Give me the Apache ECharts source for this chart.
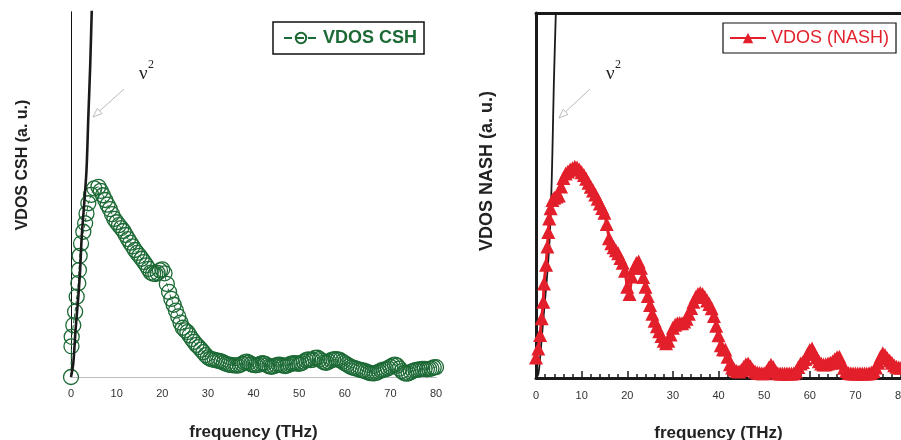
<!DOCTYPE html>
<html>
<head>
<meta charset="utf-8">
<script src="https://cdn.jsdelivr.net/npm/echarts@6/dist/echarts.min.js"></script>
<style>html,body{margin:0;padding:0;background:#fff}#c{width:901px;height:440px}</style>
</head>
<body>
<div id="c"></div>
<script>
// ---------- data ----------
const xTicks = [0, 10, 20, 30, 40, 50, 60, 70, 80];

// VDOS CSH (left panel)
const cshFreq = [0,0.1,0.15,0.5,0.9,1.25,1.6,1.75,1.9,2.2,2.7,3.1,3.4,3.8,4.4,5.1,6.0,
 6.5,7,7.5,8,8.5,9,9.5,10,10.5,11,11.5,12,12.5,13,13.5,14,14.5,15,15.5,16,16.5,17,17.5,18,18.5,19,19.5,20,
 20.5,21,21.5,22,22.5,23,23.5,24,24.5,25,25.5,26,26.5,27,27.5,28,28.5,29,29.5,30,
 30.5,31,31.5,32,32.5,33,33.5,34,34.5,35,35.5,36,36.5,37,37.5,38,38.5,39,39.5,40,
 40.5,41,41.5,42,42.5,43,43.5,44,44.5,45,45.5,46,46.5,47,47.5,48,48.5,49,49.5,50,
 50.5,51,51.5,52,52.5,53,53.5,54,54.5,55,55.5,56,56.5,57,57.5,58,58.5,59,59.5,60,
 60.5,61,61.5,62,62.5,63,63.5,64,64.5,65,65.5,66,66.5,67,67.5,68,68.5,69,69.5,70,
 70.5,71,71.5,72,72.5,73,73.5,74,74.5,75,75.5,76,76.5,77,77.5,78,78.5,79,79.5,80];
const cshVdos = [0,8.4,11,14.2,17.9,22,25.7,29.3,33.2,36.6,39.8,42.1,44.8,47.6,49.9,51.7,52.1,
 51.0,49.8,48.5,47.2,46.0,44.6,43.3,42.4,41.6,40.8,40.0,38.9,37.8,36.8,35.8,34.8,34.0,33.2,32.4,31.5,30.6,29.6,28.6,28.3,28.2,28.5,29.2,29.5,
 28.4,25.5,23.3,21.4,19.8,18.2,16.6,14.9,13.5,12.8,12.3,11.4,10.4,9.6,8.8,8.2,7.5,6.8,6.0,5.4,
 5.0,4.8,4.7,4.5,4.4,4.2,3.9,3.6,3.4,3.3,3.2,3.2,3.1,3.3,3.6,4.0,4.2,3.9,3.5,3.3,
 3.2,3.3,3.6,3.8,3.6,3.2,2.9,2.8,3.0,3.2,3.4,3.3,3.1,3.0,3.2,3.5,3.7,3.8,3.7,3.6,
 3.8,4.2,4.6,4.8,4.6,4.7,5.2,5.3,4.9,4.4,4.0,3.9,4.2,4.6,4.8,4.9,4.8,4.6,4.2,3.8,
 3.4,3.0,2.7,2.5,2.3,2.1,1.9,1.8,1.6,1.3,1.1,1.0,1.0,1.2,1.5,1.8,2.0,2.1,2.4,2.8,
 3.2,3.4,3.1,2.3,1.6,1.1,0.9,1.0,1.4,1.7,1.9,2.0,2.1,2.2,2.2,2.1,2.2,2.3,2.6,2.7];

// VDOS NASH (right panel)
const nashFreq = [0,0.5,0.9,1.25,1.6,1.75,2.2,2.5,2.7,2.9,3.2,3.6,4.0,
 4.5,5,5.5,6,6.5,7,7.5,8,8.5,9,9.5,10,10.5,11,11.5,12,12.5,13,13.5,14,14.5,15,15.5,16,16.5,17,17.5,18,18.5,19,19.5,20,
 20.5,21,21.5,22,22.5,23,23.5,24,24.5,25,25.5,26,26.5,27,27.5,28,28.5,29,29.5,30,
 30.5,31,31.5,32,32.5,33,33.5,34,34.5,35,35.5,36,36.5,37,37.5,38,38.5,39,39.5,40,
 40.5,41,41.5,42,42.5,43,43.5,44,44.5,45,45.5,46,46.5,47,47.5,48,48.5,49,49.5,50,
 50.5,51,51.5,52,52.5,53,53.5,54,54.5,55,55.5,56,56.5,57,57.5,58,58.5,59,59.5,60,
 60.5,61,61.5,62,62.5,63,63.5,64,64.5,65,65.5,66,66.5,67,67.5,68,68.5,69,69.5,70,
 70.5,71,71.5,72,72.5,73,73.5,74,74.5,75,75.5,76,76.5,77,77.5,78,78.5,79,79.5,80];
const nashVdos = [5.6,8.1,11.8,16.4,20.9,25.9,31,36,40,43.7,46.5,48.8,49.4,
 49.7,50.0,52.5,54.8,56.0,56.6,57.1,57.5,57.9,57.7,57.1,56.4,55.6,54.6,53.5,52.4,51.4,50.3,49.1,47.8,46.6,45.3,42.2,38.3,36.9,35.8,35.0,34.2,32.9,31.6,29.4,25.0,
 23.0,27.8,30.2,31.5,31.9,30.2,27.7,25.0,22.5,20.0,17.6,15.7,14.2,12.8,11.5,10.2,9.5,10.2,11.9,13.8,
 14.6,15.0,15.1,15.0,15.5,16.2,17.6,19.2,20.9,22.2,23.0,23.3,23.0,22.2,21.2,20.3,19.1,17.0,14.3,11.7,
 9.0,7.9,7.8,5.8,3.8,2.9,2.3,1.9,1.8,2.2,3.0,3.8,4.0,3.2,2.3,1.8,1.5,1.4,1.3,1.3,
 1.8,2.8,3.6,3.0,1.9,1.3,1.2,1.2,1.2,1.2,1.2,1.2,1.3,1.8,3.0,4.0,4.4,5.2,6.6,7.7,
 8.1,6.8,5.6,4.6,4.0,3.7,3.8,4.0,4.2,4.5,5.2,5.7,5.8,4.2,2.8,1.9,1.4,1.3,1.2,1.2,
 1.2,1.2,1.2,1.2,1.2,1.3,1.5,1.9,2.9,4.2,5.8,6.8,6.3,5.4,4.8,4.2,3.5,3.1,2.9,2.8];

// nu^2 guide curves as drawn in each panel
const nuLeftFreq  = [0,0.15,0.5,1.0,1.6,2.0,2.35,2.9,3.4,3.8,4.2,4.54,4.6];
const nuLeftVal   = [0,0,3.7,12.9,22,29.3,38.4,47.6,56.7,71.3,85,99.9,102];
const nuRightFreq = [0,0.5,0.9,1.6,2.3,2.9,3.3,3.6,3.9,4.3,4.4];
const nuRightVal  = [0,1,5.5,16,26,36,48,62,80,98,102];

// ---------- chart ----------
const GREEN = '#1c6a35', RED = '#e21f2a';
const SANS = '"Liberation Sans", Arial, Helvetica, sans-serif';
const SERIF = '"Liberation Serif", "Times New Roman", serif';
const pairs = (xs, ys) => xs.map((x, i) => [x, ys[i]]);

function arrow(x1, y1, x2, y2) {
  const dx = x2 - x1, dy = y2 - y1, L = Math.hypot(dx, dy);
  const ux = dx / L, uy = dy / L, px = -uy, py = ux;
  const hl = 9, hw = 3.5;
  const bx = x2 - ux * hl, by = y2 - uy * hl;
  return [
    { type: 'line', shape: { x1, y1, x2: bx, y2: by }, style: { stroke: '#a8a8a8', lineWidth: 0.8 }, z: 100 },
    { type: 'polygon', shape: { points: [[x2, y2], [bx + px * hw, by + py * hw], [bx - px * hw, by - py * hw]] },
      style: { stroke: '#a8a8a8', fill: '#fff', lineWidth: 0.8 }, z: 100 }
  ];
}
function nuLabel(x, y) {
  return [
    { type: 'text', x: x, y: y, style: { text: 'ν', font: '19px ' + SERIF, fill: '#222', align: 'left', verticalAlign: 'middle' }, z: 100 },
    { type: 'text', x: x + 9, y: y - 9, style: { text: '2', font: '12px ' + SERIF, fill: '#222', align: 'left', verticalAlign: 'middle' }, z: 100 }
  ];
}

const axisLabel = { color: '#333', fontSize: 11, fontFamily: SANS };
const xName = { fontSize: 17, fontWeight: 'bold', color: '#222', fontFamily: SANS };

const option = {
  animation: false,
  backgroundColor: '#fff',
  grid: [
    { left: 71, right: 465, top: 12, bottom: 63, containLabel: false, outerBoundsMode: 'none' },
    { left: 536, right: 0, top: 13, bottom: 62, containLabel: false, outerBoundsMode: 'none' }
  ],
  xAxis: [
    { gridIndex: 0, type: 'value', min: xTicks[0], max: xTicks[xTicks.length - 1], interval: 10, position: 'bottom',
      axisLine: { lineStyle: { color: '#bdbdbd', width: 1 } }, axisTick: { show: false }, splitLine: { show: false },
      axisLabel: Object.assign({ margin: 11 }, axisLabel),
      name: 'frequency (THz)', nameLocation: 'middle', nameGap: 47, nameTextStyle: xName },
    { gridIndex: 0, type: 'value', min: 0, max: 80, position: 'top',
      axisLine: { lineStyle: { color: '#bdbdbd', width: 1 } }, axisTick: { show: false }, axisLabel: { show: false }, splitLine: { show: false } },
    { gridIndex: 1, type: 'value', min: xTicks[0], max: xTicks[xTicks.length - 1], interval: 10, position: 'bottom',
      axisLine: { lineStyle: { color: '#1a1a1a', width: 3 } },
      axisTick: { show: true, inside: true, length: 7, lineStyle: { color: '#1a1a1a', width: 1.5 } },
      minorTick: { show: true, splitNumber: 5, length: 4, lineStyle: { color: '#1a1a1a', width: 1.5 } },
      splitLine: { show: false },
      axisLabel: Object.assign({ margin: 12, showMaxLabel: true }, axisLabel),
      name: 'frequency (THz)', nameLocation: 'middle', nameGap: 47, nameTextStyle: xName },
    { gridIndex: 1, type: 'value', min: 0, max: 80, position: 'top',
      axisLine: { lineStyle: { color: '#1a1a1a', width: 3 } }, axisTick: { show: false }, axisLabel: { show: false }, splitLine: { show: false } }
  ],
  yAxis: [
    { gridIndex: 0, type: 'value', min: 0, max: 100, position: 'left',
      axisLine: { show: true, lineStyle: { color: '#111', width: 1 } }, axisTick: { show: false }, axisLabel: { show: false }, splitLine: { show: false } },
    { gridIndex: 0, type: 'value', min: 0, max: 100, position: 'right',
      axisLine: { show: true, lineStyle: { color: '#111', width: 1 } }, axisTick: { show: false }, axisLabel: { show: false }, splitLine: { show: false } },
    { gridIndex: 1, type: 'value', min: 0, max: 100, position: 'left',
      axisLine: { show: true, lineStyle: { color: '#1a1a1a', width: 3 } }, axisTick: { show: false }, axisLabel: { show: false }, splitLine: { show: false } }
  ],
  legend: [
    { data: ['VDOS CSH'], left: 273, top: 22, padding: [7, 7, 7, 10], itemWidth: 34, itemHeight: 13,
      borderColor: '#111', borderWidth: 1.5, backgroundColor: '#fff',
      textStyle: { color: GREEN, fontWeight: 'bold', fontSize: 18, fontFamily: SANS } },
    { data: ['VDOS (NASH)'], left: 723, top: 23, padding: [6, 7, 6, 6], itemWidth: 36, itemHeight: 13,
      borderColor: '#111', borderWidth: 1.2, backgroundColor: '#fff',
      textStyle: { color: RED, fontSize: 18, fontFamily: SANS } }
  ],
  series: [
    { name: 'VDOS CSH', type: 'line', xAxisIndex: 0, yAxisIndex: 0, data: pairs(cshFreq, cshVdos),
      symbol: 'circle', symbolSize: 15, showAllSymbol: true,
      itemStyle: { color: 'rgba(255,255,255,0)', borderColor: GREEN, borderWidth: 1.3 },
      lineStyle: { color: GREEN, width: 1, type: 'dashed' }, z: 2 },
    { name: 'nuL', type: 'line', xAxisIndex: 0, yAxisIndex: 0, data: pairs(nuLeftFreq, nuLeftVal),
      symbol: 'none', smooth: 0.3, clip: true, lineStyle: { color: '#1a1a1a', width: 2.6 }, z: 3 },
    { name: 'nuR', type: 'line', xAxisIndex: 2, yAxisIndex: 2, data: pairs(nuRightFreq, nuRightVal),
      symbol: 'none', smooth: 0.3, clip: true, lineStyle: { color: '#1a1a1a', width: 1.8 }, z: 1 },
    { name: 'VDOS (NASH)', type: 'line', xAxisIndex: 2, yAxisIndex: 2, data: pairs(nashFreq, nashVdos),
      symbol: 'triangle', symbolSize: 14, showAllSymbol: true, clip: false,
      itemStyle: { color: RED },
      lineStyle: { color: RED, width: 3 }, z: 2 }
  ],
  graphic: [
    { type: 'text', x: 23, y: 165, rotation: Math.PI / 2,
      style: { text: 'VDOS CSH (a. u.)', font: 'bold 16px ' + SANS, fill: '#222', align: 'center', verticalAlign: 'middle' } },
    { type: 'text', x: 487, y: 171, rotation: Math.PI / 2,
      style: { text: 'VDOS NASH (a. u.)', font: 'bold 18px ' + SANS, fill: '#222', align: 'center', verticalAlign: 'middle' } }
  ].concat(nuLabel(139, 74), arrow(124, 89, 93, 117), nuLabel(606, 74), arrow(590, 89, 559, 118))
};

const chart = echarts.init(document.getElementById('c'), null, { renderer: 'canvas' });
chart.setOption(option);
</script>
</body>
</html>
